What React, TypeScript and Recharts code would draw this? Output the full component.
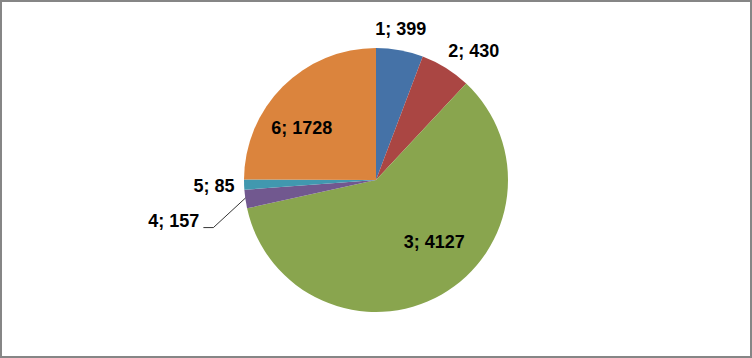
import React from "react";
import { PieChart, Pie, Cell } from "recharts";

const categories = ["1", "2", "3", "4", "5", "6"];
const values = [399, 430, 4127, 157, 85, 1728];
const colors = ["#4572A7", "#AA4643", "#89A54E", "#71588F", "#4198AF", "#DB843D"];

const data = categories.map((c, i) => ({ name: c, value: values[i] }));

// label placement: offset from the point on the outer edge at mid angle
const labelOffsets = [
  { dx: 1, dy: -21, anchor: "middle" },
  { dx: 28, dy: -17, anchor: "middle" },
  { dx: -7, dy: -53, anchor: "middle" },
  { dx: -46, dy: 22, anchor: "end", leader: true },
  { dx: -30, dy: 1, anchor: "middle" },
  { dx: 19, dy: 41, anchor: "middle" },
];

const RADIAN = Math.PI / 180;

const renderLabel = (props: any) => {
  const { cx, cy, midAngle, outerRadius, index, name, value } = props;
  const ox = cx + outerRadius * Math.cos(-midAngle * RADIAN);
  const oy = cy + outerRadius * Math.sin(-midAngle * RADIAN);
  const o = labelOffsets[index];
  const tx = ox + o.dx;
  const ty = oy + o.dy;
  return (
    <g key={`lbl-${index}`}>
      {o.leader ? (
        <polyline
          points={`${ox},${oy - 1} ${ox - 32},${oy + 28.5} ${ox - 42},${oy + 28.5}`}
          fill="none"
          stroke="#000"
          strokeWidth={0.8}
        />
      ) : null}
      <text
        x={tx}
        y={ty}
        textAnchor={o.anchor as any}
        dominantBaseline="central"
        fill="#000"
        fontFamily="'Liberation Sans', Arial, sans-serif"
        fontWeight="bold"
        fontSize={18}
      >
        {`${name}; ${value}`}
      </text>
    </g>
  );
};

export default function App() {
  return (
    <div style={{ position: "absolute", left: 0, top: 0, width: 752, height: 358, background: "#fff" }}>
      <div
        style={{
          position: "absolute",
          left: 0,
          top: 0,
          width: 752,
          height: 358,
          boxSizing: "border-box",
          border: "2px solid #868686",
        }}
      />
      <div style={{ position: "absolute", left: 0, top: 0 }}>
        <PieChart width={752} height={358} margin={{ top: 0, right: 0, bottom: 0, left: 0 }}>
          <Pie
            data={data}
            dataKey="value"
            nameKey="name"
            cx={376}
            cy={180}
            outerRadius={132}
            startAngle={90}
            endAngle={-270}
            stroke="none"
            labelLine={false}
            label={renderLabel}
            isAnimationActive={false}
          >
            {data.map((d, i) => (
              <Cell key={d.name} fill={colors[i]} />
            ))}
          </Pie>
        </PieChart>
      </div>
    </div>
  );
}
